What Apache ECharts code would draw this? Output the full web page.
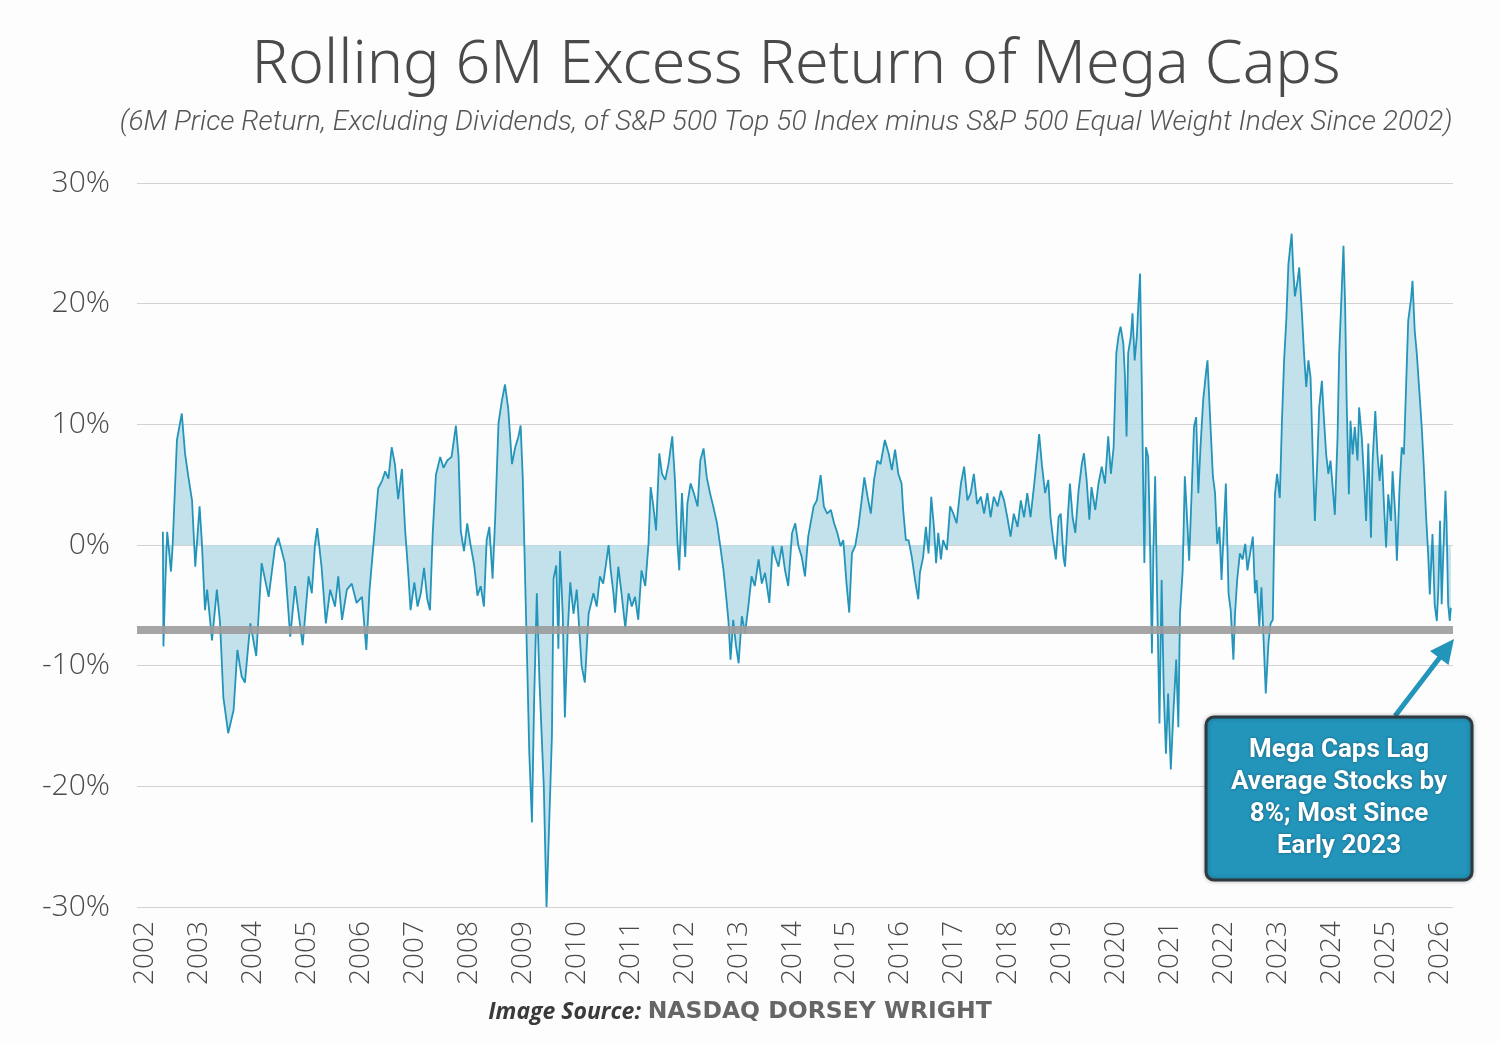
<!DOCTYPE html>
<html>
<head>
<meta charset="utf-8">
<script src="https://cdn.jsdelivr.net/npm/echarts@6/dist/echarts.min.js"></script>
<style>
  html, body { margin: 0; padding: 0; background: #fdfdfd; }
  #main { width: 1500px; height: 1042px; }
</style>
</head>
<body>
<div id="main"></div>
<script>
// dates as decimal years
var dates = [
  2002.33, 2002.34, 2002.37, 2002.41, 2002.48, 2002.51, 2002.59, 2002.68, 2002.74, 2002.80, 2002.87, 2002.93,
  2003.01, 2003.05, 2003.11, 2003.15, 2003.24, 2003.33, 2003.39, 2003.45, 2003.54, 2003.64, 2003.71, 2003.79, 2003.85, 2003.95,
  2004.06, 2004.16, 2004.29, 2004.41, 2004.47, 2004.59, 2004.69, 2004.78, 2004.92,
  2005.03, 2005.09, 2005.15, 2005.19, 2005.27, 2005.35, 2005.43, 2005.52, 2005.58, 2005.65, 2005.74, 2005.83, 2005.92,
  2006.02, 2006.10, 2006.16, 2006.23, 2006.32, 2006.39, 2006.45, 2006.51, 2006.57, 2006.63, 2006.69, 2006.76, 2006.82, 2006.88, 2006.92, 2006.99,
  2007.05, 2007.11, 2007.17, 2007.23, 2007.28, 2007.33, 2007.39, 2007.47, 2007.53, 2007.60, 2007.68, 2007.76, 2007.81, 2007.85, 2007.91, 2007.97,
  2008.04, 2008.10, 2008.16, 2008.22, 2008.28, 2008.33, 2008.38, 2008.44, 2008.49, 2008.55, 2008.61, 2008.67, 2008.73, 2008.80, 2008.86, 2008.92, 2008.96,
  2009.00, 2009.04, 2009.09, 2009.12, 2009.17, 2009.21, 2009.26, 2009.31, 2009.35, 2009.39, 2009.44, 2009.49, 2009.54, 2009.57, 2009.62, 2009.66, 2009.69, 2009.74, 2009.78, 2009.83, 2009.88, 2009.94,
  2010.00, 2010.09, 2010.15, 2010.22, 2010.31, 2010.37, 2010.43, 2010.49, 2010.56, 2010.59, 2010.63, 2010.68, 2010.71, 2010.77, 2010.83, 2010.90, 2010.96,
  2011.02, 2011.08, 2011.14, 2011.20, 2011.27, 2011.33, 2011.37, 2011.42, 2011.47, 2011.53, 2011.58, 2011.64, 2011.70, 2011.77, 2011.82, 2011.87, 2011.90, 2011.95,
  2012.01, 2012.05, 2012.11, 2012.17, 2012.24, 2012.29, 2012.35, 2012.41, 2012.47, 2012.53, 2012.60, 2012.66, 2012.72, 2012.77, 2012.81, 2012.85, 2012.90, 2012.95,
  2013.00, 2013.06, 2013.12, 2013.18, 2013.24, 2013.30, 2013.37, 2013.43, 2013.49, 2013.57, 2013.63, 2013.68, 2013.74, 2013.80, 2013.86, 2013.92, 2013.99,
  2014.05, 2014.11, 2014.17, 2014.23, 2014.29, 2014.39, 2014.45, 2014.52, 2014.58, 2014.64, 2014.71, 2014.77, 2014.83, 2014.89, 2014.94,
  2015.00, 2015.05, 2015.10, 2015.16, 2015.22, 2015.28, 2015.33, 2015.39, 2015.45, 2015.51, 2015.57, 2015.63, 2015.71, 2015.78, 2015.84, 2015.90, 2015.96,
  2016.02, 2016.05, 2016.10, 2016.15, 2016.21, 2016.27, 2016.33, 2016.36, 2016.42, 2016.47, 2016.52, 2016.57, 2016.62, 2016.66, 2016.70, 2016.75, 2016.79, 2016.86, 2016.92, 2016.98,
  2017.04, 2017.12, 2017.18, 2017.24, 2017.30, 2017.36, 2017.42, 2017.49, 2017.55, 2017.61, 2017.67, 2017.73, 2017.80, 2017.86, 2017.92, 2017.98,
  2018.04, 2018.10, 2018.17, 2018.23, 2018.29, 2018.35, 2018.41, 2018.48, 2018.53, 2018.57, 2018.62, 2018.68, 2018.74, 2018.78, 2018.83, 2018.88, 2018.93, 2018.97,
  2019.02, 2019.05, 2019.09, 2019.14, 2019.19, 2019.24, 2019.30, 2019.36, 2019.40, 2019.45, 2019.50, 2019.54, 2019.61, 2019.67, 2019.73, 2019.79, 2019.85, 2019.90, 2019.95,
  2020.00, 2020.04, 2020.08, 2020.13, 2020.16, 2020.19, 2020.22, 2020.27, 2020.30, 2020.34, 2020.38, 2020.41, 2020.44, 2020.47, 2020.50, 2020.52, 2020.55, 2020.59, 2020.62, 2020.66, 2020.69, 2020.72, 2020.75, 2020.80, 2020.84, 2020.88, 2020.92, 2020.96,
  2021.01, 2021.06, 2021.11, 2021.15, 2021.18, 2021.23, 2021.27, 2021.32, 2021.35, 2021.40, 2021.44, 2021.48, 2021.52, 2021.56, 2021.61, 2021.66, 2021.69, 2021.74, 2021.79, 2021.83, 2021.87, 2021.91, 2021.95,
  2022.00, 2022.03, 2022.08, 2022.12, 2022.17, 2022.20, 2022.24, 2022.29, 2022.34, 2022.39, 2022.43, 2022.48, 2022.53, 2022.57, 2022.60, 2022.65, 2022.69, 2022.74, 2022.77, 2022.82, 2022.86, 2022.90, 2022.92, 2022.94, 2022.98,
  2023.03, 2023.07, 2023.11, 2023.15, 2023.19, 2023.25, 2023.28, 2023.31, 2023.36, 2023.39, 2023.44, 2023.48, 2023.52, 2023.56, 2023.60, 2023.64, 2023.68, 2023.73, 2023.76, 2023.81, 2023.85, 2023.89, 2023.93, 2023.97,
  2024.01, 2024.05, 2024.10, 2024.13, 2024.18, 2024.21, 2024.24, 2024.27, 2024.31, 2024.34, 2024.38, 2024.42, 2024.47, 2024.50, 2024.55, 2024.59, 2024.63, 2024.67, 2024.72, 2024.75, 2024.80, 2024.84, 2024.88, 2024.92, 2024.96,
  2025.00, 2025.04, 2025.09, 2025.12, 2025.17, 2025.20, 2025.25, 2025.29, 2025.33, 2025.37, 2025.41, 2025.46, 2025.49, 2025.53, 2025.57, 2025.62, 2025.66, 2025.70, 2025.74, 2025.78, 2025.81, 2025.86, 2025.90, 2025.94, 2025.97,
  2026.00, 2026.03, 2026.06, 2026.10, 2026.12, 2026.15, 2026.18, 2026.20
];

// 6M excess return, percent
var excessReturn = [
  1.1, -8.4, -3.7, 1.1, -2.2, -0.1, 8.7, 10.9, 7.6, 5.7, 3.7, -1.8,
  3.2, 0.4, -5.4, -3.7, -7.9, -3.7, -6.5, -12.6, -15.6, -13.7, -8.7, -10.9, -11.4, -6.5,
  -9.2, -1.5, -4.3, -0.1, 0.6, -1.5, -7.6, -3.4, -8.3,
  -2.6, -4.0, 0.1, 1.4, -1.8, -6.5, -3.7, -5.1, -2.6, -6.2, -3.7, -3.2, -4.8,
  -4.3, -8.7, -3.7, -0.1, 4.7, 5.3, 6.1, 5.5, 8.1, 6.7, 3.8, 6.3, 1.2, -2.5, -5.4, -3.1,
  -5.1, -4.0, -1.9, -4.5, -5.4, 0.9, 5.8, 7.3, 6.4, 7.0, 7.3, 9.9, 7.3, 1.2, -0.5, 1.8,
  -0.2, -1.7, -4.2, -3.4, -5.1, 0.4, 1.5, -2.8, 2.4, 10.1, 11.9, 13.3, 11.3, 6.7, 8.1, 9.0, 9.9,
  5.5, -2.2, -11.4, -17.2, -23.0, -12.9, -4.0, -11.4, -15.8, -20.1, -30.0, -23.0, -15.8, -2.8, -1.7, -8.6, -0.5, -5.7, -14.3, -7.4, -3.1, -5.7,
  -3.7, -10.0, -11.4, -5.7, -4.0, -5.1, -2.6, -3.2, -1.0, 0.0, -2.1, -4.0, -5.6, -1.8, -4.0, -6.9, -4.0,
  -5.1, -4.3, -6.2, -2.1, -3.4, 0.1, 4.8, 3.2, 1.2, 7.6, 5.9, 5.4, 6.7, 9.0, 5.4, -0.1, -2.1, 4.3,
  -1.0, 3.4, 5.1, 4.3, 3.2, 7.0, 8.0, 5.6, 4.3, 3.2, 1.8, -0.1, -2.1, -4.3, -6.2, -9.5, -6.2, -8.3,
  -9.8, -5.9, -7.3, -5.1, -2.6, -3.4, -1.2, -3.2, -2.3, -4.8, -0.1, -1.0, -1.8, -0.1, -2.1, -3.4, 1.0,
  1.8, -0.1, -1.0, -2.6, 0.7, 3.2, 3.7, 5.8, 3.2, 2.6, 2.9, 1.8, 1.0, -0.1, 0.4,
  -3.2, -5.6, -0.7, -0.1, 1.5, 3.7, 5.6, 4.0, 2.6, 5.4, 7.0, 6.7, 8.7, 7.6, 6.2, 7.9, 5.9,
  5.1, 2.9, 0.4, 0.4, -1.0, -2.9, -4.5, -2.3, -1.0, 1.5, -0.7, 4.0, 1.5, -1.5, 1.0, -1.2, 0.4, -0.4, 3.2, 2.6,
  1.8, 5.1, 6.5, 3.7, 4.3, 5.9, 3.4, 4.0, 2.6, 4.3, 2.3, 4.0, 3.2, 4.5, 3.7, 2.3,
  0.7, 2.6, 1.5, 3.7, 2.3, 4.3, 2.3, 5.1, 7.3, 9.2, 6.7, 4.3, 5.4, 2.3, 0.4, -1.2, 2.3, 2.6,
  -1.0, -1.8, 1.5, 5.1, 2.3, 1.0, 4.5, 6.7, 7.6, 5.4, 2.1, 4.8, 2.9, 5.1, 6.5, 5.1, 9.0, 5.9, 8.1,
  15.9, 17.3, 18.1, 16.7, 14.0, 9.0, 15.9, 17.3, 19.2, 15.3, 17.3, 20.0, 22.5, 14.0, 4.3, -1.5, 8.1, 7.3, 1.5, -9.0, 0.1, 5.7, -2.6, -14.8, -2.9, -12.3, -17.3, -12.3,
  -18.6, -13.7, -9.5, -15.1, -5.7, -2.1, 5.7, 1.5, -1.3, 4.8, 9.8, 10.6, 4.3, 8.1, 12.0, 14.2, 15.3, 10.4, 5.7, 4.3, 0.1, 1.5, -2.9,
  2.1, 5.1, -4.0, -5.4, -9.5, -5.7, -2.9, -0.7, -1.2, 0.1, -2.1, -0.7, 0.7, -4.0, -2.9, -6.8, -3.5, -9.0, -12.3, -8.1, -6.5, -6.2, -0.8, 4.2, 5.9,
  3.9, 10.3, 15.3, 18.6, 23.3, 25.8, 22.8, 20.6, 21.9, 23.0, 19.2, 15.8, 13.1, 15.3, 13.9, 7.5, 2.0, 7.5, 11.4, 13.6, 10.3, 7.5, 5.9, 7.0,
  4.8, 2.5, 8.9, 15.8, 21.4, 24.8, 20.0, 11.7, 4.2, 10.3, 7.5, 9.8, 7.0, 11.4, 8.9, 5.6, 2.0, 8.4, 0.6, 7.0, 11.1, 7.5, 5.3, 7.5, 3.4,
  -0.2, 4.2, 2.0, 6.1, 2.5, -1.3, 4.8, 8.1, 7.5, 13.1, 18.6, 20.3, 21.9, 17.8, 15.8, 12.5, 9.8, 6.4, 2.5, -0.8, -4.1, 0.9, -4.9, -6.3, -3.5,
  2.0, -4.9, -0.8, 4.5, 2.0, -4.9, -6.3, -5.2
];

var yearTicks = [2002, 2003, 2004, 2005, 2006, 2007, 2008, 2009, 2010, 2011, 2012, 2013,
  2014, 2015, 2016, 2017, 2018, 2019, 2020, 2021, 2022, 2023, 2024, 2025, 2026];
var latestLevel = -7;  // grey reference line
var noteLines = ['Mega Caps Lag', 'Average Stocks by', '8%; Most Since', 'Early 2023'];

var seriesData = [];
for (var i = 0; i < Math.min(dates.length, excessReturn.length); i++) {
  seriesData.push([dates[i], excessReturn[i]]);
}

var chart = echarts.init(document.getElementById('main'));
var blue = '#2394ba';

var option = {
  backgroundColor: '#fdfdfd',
  animation: false,
  title: [{
    text: 'Rolling 6M Excess Return of Mega Caps',
    left: 791,
    top: 30,
    textAlign: 'center',
    textStyle: { fontFamily: 'Noto Sans', fontWeight: 300, fontSize: 61, color: '#4a4a4a' }
  }, {
    text: '(6M Price Return, Excluding Dividends, of S&P 500 Top 50 Index minus S&P 500 Equal Weight Index Since 2002)',
    left: 781,
    top: 104,
    textAlign: 'center',
    textStyle: { fontFamily: 'Roboto', fontStyle: 'italic', fontWeight: 300, fontSize: 28.2, color: '#555' }
  }],
  grid: { left: 137, right: 47, top: 183, bottom: 135, containLabel: false },
  xAxis: {
    type: 'value',
    min: 2001.85,
    max: 2026.24,
    axisLine: { show: false },
    axisTick: { show: false },
    splitLine: { show: false },
    axisLabel: {
      customValues: yearTicks,
      rotate: 90,
      margin: 14,
      fontFamily: 'Open Sans',
      fontWeight: 300,
      fontSize: 28,
      color: '#4a4a4a',
      formatter: function (v) { return String(v); }
    }
  },
  yAxis: {
    type: 'value',
    min: -30,
    max: 30,
    interval: 10,
    axisLine: { show: false },
    axisTick: { show: false },
    splitLine: { lineStyle: { color: '#d2d2d2', width: 1.2 } },
    axisLabel: {
      margin: 27,
      fontFamily: 'Open Sans',
      fontWeight: 300,
      fontSize: 30,
      color: '#4a4a4a',
      formatter: function (v) { return v + '%'; }
    }
  },
  series: [{
    type: 'line',
    data: seriesData,
    showSymbol: false,
    lineStyle: { color: blue, width: 1.8 },
    areaStyle: { color: '#b9dce7', opacity: 0.85 },
    z: 3,
    markLine: {
      silent: true,
      symbol: ['none', 'none'],
      label: { show: false },
      lineStyle: { color: '#9c9c9c', width: 8, type: 'solid', opacity: 0.9 },
      data: [{ yAxis: latestLevel }]
    }
  }],
  graphic: [
    {
      type: 'line',
      z: 100,
      shape: { x1: 1395, y1: 716, x2: 1444, y2: 652 },
      style: { stroke: blue, lineWidth: 5 }
    },
    {
      type: 'polygon',
      z: 100,
      shape: { points: [[1454, 639], [1448.5, 665], [1430, 651]] },
      style: { fill: blue }
    },
    {
      type: 'rect',
      z: 100,
      shape: { x: 1206, y: 717, width: 266, height: 163, r: 8 },
      style: { fill: blue, stroke: '#2e3a40', lineWidth: 3, shadowBlur: 4, shadowColor: 'rgba(0,0,0,0.25)' }
    },
    {
      type: 'text',
      z: 101,
      x: 1339,
      y: 798,
      style: {
        text: noteLines.join('\n'),
        fill: '#ffffff',
        font: 'bold 26px "Roboto", sans-serif',
        lineHeight: 32,
        align: 'center',
        verticalAlign: 'middle',
        textShadowBlur: 3,
        textShadowColor: 'rgba(0,0,0,0.35)'
      }
    },
    {
      type: 'text',
      z: 101,
      x: 740,
      y: 1012,
      style: {
        text: '{a|Image Source:}  {b|NASDAQ DORSEY WRIGHT}',
        align: 'center',
        verticalAlign: 'middle',
        rich: {
          a: { fontFamily: 'Open Sans', fontStyle: 'italic', fontWeight: 'bold', fontSize: 23, fill: '#3a3a3a' },
          b: { fontFamily: 'DejaVu Sans', fontWeight: 'bold', fontSize: 23.5, fill: '#666' }
        }
      }
    }
  ]
};

chart.setOption(option);
</script>
</body>
</html>
